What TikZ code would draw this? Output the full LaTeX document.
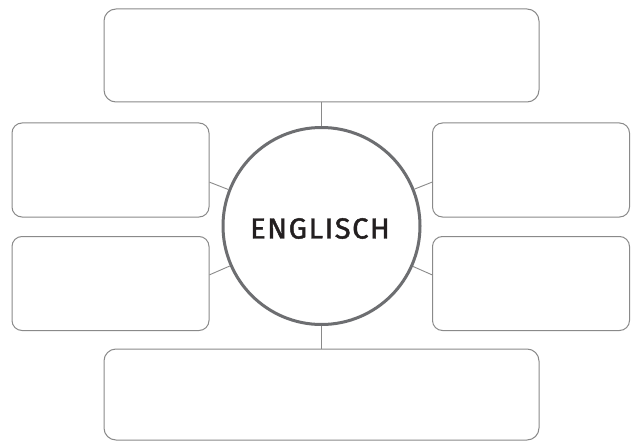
\documentclass[tikz,border=0pt]{standalone}
\usepackage{fontspec}
\setmainfont{Fira Sans}
\definecolor{boxgray}{HTML}{8A8A8A}
\definecolor{ringgray}{HTML}{6D6E71}
\definecolor{txt}{HTML}{231F20}
\begin{document}
\begin{tikzpicture}[x=1pt,y=-1pt,
  boxw/.style={draw=boxgray,line width=1pt,rounded corners=12pt,fill=white,inner sep=0pt},
  sidebox/.style={draw=boxgray,line width=1pt,rounded corners=10pt,fill=white,inner sep=0pt,minimum width=197pt,minimum height=94pt},
  link/.style={draw=boxgray,line width=0.9pt}]
\useasboundingbox (0,0) rectangle (634,441);
\fill[white] (0,0) rectangle (634,441);
\node[draw=ringgray,line width=3pt,circle,minimum size=197pt,inner sep=0pt,fill=white] (c) at (321.5,226) {};
\node[text=txt,font=\fontsize{29}{32}\selectfont\addfontfeature{LetterSpace=5.5,FakeBold=1.6}] (t) at (320,228.5) {ENGLISCH};
\node[boxw,minimum width=435pt,minimum height=93pt] (top) at (321.5,55.5) {};
\node[boxw,minimum width=435pt,minimum height=91pt] (bot) at (321.5,394.5) {};
\node[sidebox] (lt) at (110.5,170) {};
\node[sidebox] (lb) at (110.5,283.5) {};
\node[sidebox] (rt) at (531,170) {};
\node[sidebox] (rb) at (531,283.5) {};
\draw[link] (top.south) -- (c);
\draw[link] (bot.north) -- (c);
\draw[link] (lt.-7) -- (c);
\draw[link] (lb.5) -- (c);
\draw[link] (rt.-173) -- (c);
\draw[link] (rb.175) -- (c);
\end{tikzpicture}
\end{document}
